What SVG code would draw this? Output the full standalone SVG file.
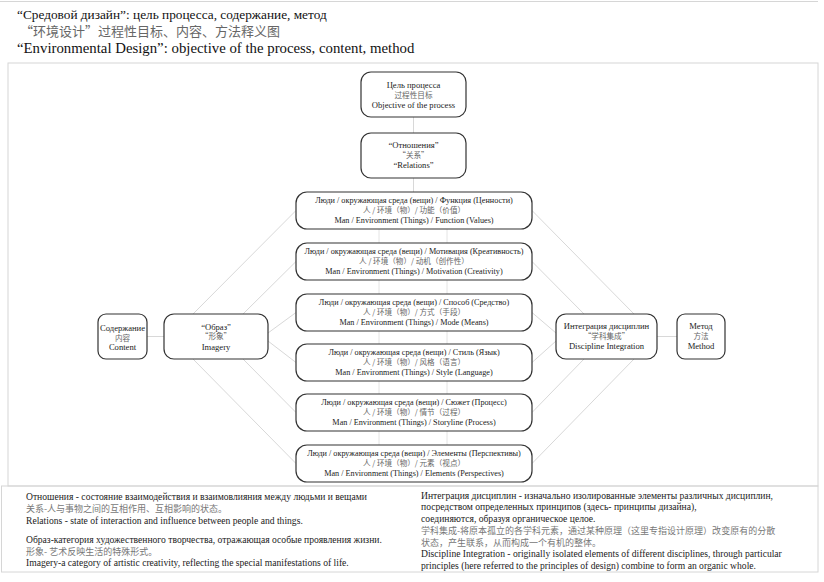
<svg xmlns="http://www.w3.org/2000/svg" width="824" height="582" viewBox="0 0 824 582">
<style>
.bg{fill:#ffffff}
.frame{fill:none;stroke:#d6d6d6;stroke-width:1}
.node{fill:#ffffff;stroke:#333333;stroke-width:1.2}
.con{fill:none;stroke:#d8d8d8;stroke-width:1}
.con2{fill:none;stroke:#e4e4e4;stroke-width:1}
.t{font-family:"Liberation Serif","Times New Roman",serif;fill:#222222;text-anchor:middle}
.c{font-family:"Noto Sans CJK SC",sans-serif;fill:#666666;text-anchor:middle}
.n{font-size:8.6px}
.m{font-size:8.2px}
.cn{font-size:7.6px}
.h{font-family:"Liberation Serif","Times New Roman",serif;fill:#111111}
.hc{font-family:"Noto Sans CJK SC",sans-serif;fill:#666666}
.b{font-family:"Liberation Serif","Times New Roman",serif;fill:#222222;font-size:9.6px}
.bc{font-family:"Noto Sans CJK SC",sans-serif;fill:#777777;font-size:9px}
</style>
<rect class="bg" x="0" y="0" width="824" height="582"/>
<g id="frame">
<line class="frame" x1="0" y1="1.5" x2="818" y2="1.5"/>
<rect class="frame" x="8" y="63" width="810" height="423"/>
<rect class="frame" x="1.5" y="486" width="816.5" height="86"/>
</g>
<g id="title">
<text class="h" x="17" y="19" font-size="13.3">“Средовой дизайн”: цель процесса,  содержание, метод</text>
<text class="hc" x="20" y="36" font-size="13">“环境设计”过程性目标、内容、方法释义图</text>
<text class="h" x="17" y="53" font-size="14.8">“Environmental Design”: objective of the process, content, method</text>
</g>
<g id="connectors">
<line class="con2" x1="379" y1="229" x2="379" y2="445"/>
<line class="con2" x1="447" y1="229" x2="447" y2="445"/>
<line class="con" x1="413.5" y1="117" x2="413.5" y2="133"/>
<line class="con" x1="413.5" y1="178" x2="413.5" y2="192"/>
<line class="con" x1="147" y1="336.5" x2="164" y2="336.5"/>
<line class="con" x1="657" y1="336.5" x2="677" y2="336.5"/>
<line class="con" x1="296" y1="210.5" x2="193" y2="314"/>
<line class="con" x1="296" y1="261.5" x2="243" y2="314"/>
<line class="con" x1="296" y1="312.5" x2="268" y2="333"/>
<line class="con" x1="296" y1="362.5" x2="268" y2="341"/>
<line class="con" x1="296" y1="412.5" x2="243" y2="359"/>
<line class="con" x1="296" y1="463.5" x2="193" y2="359"/>
<line class="con" x1="532" y1="210.5" x2="634" y2="314"/>
<line class="con" x1="532" y1="261.5" x2="584" y2="314"/>
<line class="con" x1="532" y1="312.5" x2="556" y2="333"/>
<line class="con" x1="532" y1="362.5" x2="556" y2="341"/>
<line class="con" x1="532" y1="412.5" x2="584" y2="359"/>
<line class="con" x1="532" y1="463.5" x2="634" y2="359"/>
</g>
<g id="objective">
<rect class="node" x="361" y="72" width="105" height="45" rx="10"/>
<text class="t n" x="413.5" y="87.5">Цель процесса</text>
<text class="c cn" x="413.5" y="97.5">过程性目标</text>
<text class="t n" x="413.5" y="108">Objective of the process</text>
</g>
<g id="relations">
<rect class="node" x="361" y="133" width="105" height="45" rx="10"/>
<text class="t n" x="413.5" y="147.5">“Отношения”</text>
<text class="c cn" x="413.5" y="157.5">“关系”</text>
<text class="t n" x="413.5" y="167.5">“Relations”</text>
</g>
<g id="content">
<rect class="node" x="98" y="314" width="49" height="45" rx="8"/>
<text class="t n" x="122.5" y="331">Содержание</text>
<text class="c cn" x="122.5" y="340.5">内容</text>
<text class="t n" x="122.5" y="350">Content</text>
</g>
<g id="imagery">
<rect class="node" x="164" y="314" width="104" height="45" rx="10"/>
<text class="t n" x="216" y="329.5">“Образ”</text>
<text class="c cn" x="216" y="339">“形象”</text>
<text class="t n" x="216" y="349.5">Imagery</text>
</g>
<g id="integration">
<rect class="node" x="556" y="314" width="101" height="45" rx="10"/>
<text class="t n" x="606.5" y="329">Интеграция дисциплин</text>
<text class="c cn" x="606.5" y="338.5">“学科集成”</text>
<text class="t n" x="606.5" y="348.5">Discipline Integration</text>
</g>
<g id="method">
<rect class="node" x="677" y="314" width="48" height="45" rx="8"/>
<text class="t n" x="701" y="329">Метод</text>
<text class="c cn" x="701" y="338.5">方法</text>
<text class="t n" x="701" y="348.5">Method</text>
</g>
<g id="function">
<rect class="node" x="296" y="192" width="236" height="37" rx="11"/>
<text class="t m" x="414" y="203">Люди / окружающая среда (вещи) / Функция (Ценности)</text>
<text class="c cn" x="414" y="213">人 / 环境（物）/ 功能（价值）</text>
<text class="t m" x="414" y="223">Man / Environment (Things) / Function (Values)</text>
</g>
<g id="motivation">
<rect class="node" x="296" y="243" width="236" height="37" rx="11"/>
<text class="t m" x="414" y="254">Люди / окружающая среда (вещи) / Мотивация (Креативность)</text>
<text class="c cn" x="414" y="264">人 / 环境（物）/ 动机（创作性）</text>
<text class="t m" x="414" y="274">Man / Environment (Things) / Motivation (Creativity)</text>
</g>
<g id="mode">
<rect class="node" x="296" y="294" width="236" height="37" rx="11"/>
<text class="t m" x="414" y="305">Люди / окружающая среда (вещи) / Способ (Средство)</text>
<text class="c cn" x="414" y="315">人 / 环境（物）/ 方式（手段）</text>
<text class="t m" x="414" y="325">Man / Environment (Things) / Mode (Means)</text>
</g>
<g id="style">
<rect class="node" x="296" y="344" width="236" height="37" rx="11"/>
<text class="t m" x="414" y="355">Люди / окружающая среда (вещи) / Стиль (Язык)</text>
<text class="c cn" x="414" y="365">人 / 环境（物）/ 风格（语言）</text>
<text class="t m" x="414" y="375">Man / Environment (Things) / Style (Language)</text>
</g>
<g id="storyline">
<rect class="node" x="296" y="394" width="236" height="37" rx="11"/>
<text class="t m" x="414" y="405">Люди / окружающая среда (вещи) / Сюжет (Процесс)</text>
<text class="c cn" x="414" y="415">人 / 环境（物）/ 情节（过程）</text>
<text class="t m" x="414" y="425">Man / Environment (Things) / Storyline (Process)</text>
</g>
<g id="elements">
<rect class="node" x="296" y="445" width="236" height="37" rx="11"/>
<text class="t m" x="414" y="456">Люди / окружающая среда (вещи) / Элементы (Перспективы)</text>
<text class="c cn" x="414" y="466">人 / 环境（物）/ 元素（视点）</text>
<text class="t m" x="414" y="476">Man / Environment (Things) / Elements (Perspectives)</text>
</g>
<g id="notes-left">
<text class="b" x="26" y="500">Отношения - состояние взаимодействия и взаимовлияния между людьми и вещами</text>
<text class="bc" x="26" y="511.5">关系-人与事物之间的互相作用、互相影响的状态。</text>
<text class="b" x="26" y="523.5">Relations - state of interaction and influence between people and things.</text>
<text class="b" x="26" y="543">Образ-категория художественного творчества, отражающая особые проявления жизни.</text>
<text class="bc" x="26" y="554.5">形象- 艺术反映生活的特殊形式。</text>
<text class="b" x="26" y="566">Imagery-a category of artistic creativity, reflecting the special manifestations of life.</text>
</g>
<g id="notes-right">
<text class="b" x="421" y="498.5">Интеграция дисциплин - изначально изолированные элементы различных дисциплин,</text>
<text class="b" x="421" y="510">посредством определенных принципов (здесь- принципы дизайна),</text>
<text class="b" x="421" y="521.5">соединяются, образуя органическое целое.</text>
<text class="bc" x="421" y="534">学科集成-将原本孤立的各学科元素，通过某种原理（这里专指设计原理）改变原有的分散</text>
<text class="bc" x="421" y="545.5">状态，产生联系，从而构成一个有机的整体。</text>
<text class="b" x="421" y="557">Discipline Integration - originally isolated elements of different disciplines, through particular</text>
<text class="b" x="421" y="568.5">principles (here referred to the principles of design) combine to form an organic whole.</text>
</g>
</svg>
